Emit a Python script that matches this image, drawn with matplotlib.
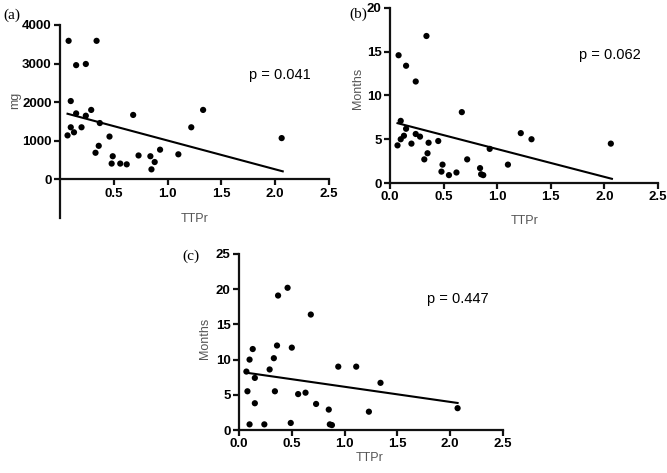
import matplotlib
matplotlib.use("Agg")
import matplotlib.pyplot as plt
import numpy as np

plt.rcParams["font.family"] = ["Liberation Sans", "DejaVu Sans"]

# ---------------------------------------------------------------------------
# Data
# ---------------------------------------------------------------------------

ttpr_a = [0.08, 0.34, 0.15, 0.24, 0.10, 0.29, 0.15, 0.24, 0.37, 0.68,
          0.10, 0.20, 0.13, 0.07, 0.46, 0.36, 0.33, 0.49, 0.73, 0.48,
          0.56, 0.62, 0.84, 0.88, 0.85, 0.93, 1.10, 1.22, 1.33, 2.06]
dose_mg = [3590, 3590, 2960, 2990, 2030, 1800, 1710, 1650, 1460, 1670,
           1350, 1350, 1220, 1140, 1110, 870, 690, 600, 620, 410,
           410, 390, 600, 450, 260, 770, 650, 1350, 1800, 1070]

ttpr_b = [0.08, 0.34, 0.15, 0.24, 0.10, 0.67, 0.15, 0.07, 0.10, 0.13,
          0.24, 0.28, 0.20, 0.36, 0.45, 0.35, 0.32, 0.72, 0.49, 0.48,
          0.55, 0.62, 0.84, 0.85, 0.87, 0.93, 1.10, 1.22, 1.32, 2.06]
months_b = [14.6, 16.8, 13.4, 11.6, 7.1, 8.1, 6.2, 4.3, 5.0, 5.4,
            5.6, 5.3, 4.5, 4.6, 4.8, 3.4, 2.7, 2.7, 2.1, 1.3,
            0.9, 1.2, 1.7, 1.0, 0.9, 3.9, 2.1, 5.7, 5.0, 4.5]

ttpr_c = [0.46, 0.37, 0.68, 0.36, 0.50, 0.13, 0.10, 0.33, 0.07, 0.29,
          0.15, 0.94, 1.11, 1.34, 0.08, 0.34, 0.56, 0.63, 0.15, 0.73,
          0.85, 1.23, 0.10, 0.24, 0.49, 0.86, 0.88, 2.07]
months_c = [20.2, 19.1, 16.4, 12.0, 11.7, 11.5, 10.0, 10.2, 8.3, 8.6,
            7.4, 9.0, 9.0, 6.7, 5.5, 5.5, 5.1, 5.3, 3.8, 3.7,
            2.9, 2.6, 0.8, 0.8, 1.0, 0.8, 0.7, 3.1]

# regression line x range and fitted intercept / slope
fit_x = [0.07, 2.07]
fit_a = (1753, -746)
fit_b = (7.06, -3.18)
fit_c = (8.29, -2.15)

p_values = ["p = 0.041", "p = 0.062", "p = 0.447"]
panel_tags = ["(a)", "(b)", "(c)"]

W, H = 667, 473
AXIS_GREY = "#555555"


def _axes(fig, x0, x1, ytop, ybot):
    return fig.add_axes([x0 / W, (H - ybot) / H, (x1 - x0) / W, (ybot - ytop) / H])


def _style(ax, xticks, yticks):
    for s in ("top", "right"):
        ax.spines[s].set_visible(False)
    for s in ("left", "bottom"):
        ax.spines[s].set_linewidth(1.6)
        ax.spines[s].set_color("#111111")
    ax.tick_params(direction="out", length=4, width=1.6, color="#111111", pad=2)
    ax.set_xticks(xticks)
    ax.set_yticks(yticks)
    ax.set_xticklabels([f"{v:.1f}" for v in xticks], fontweight="bold", fontsize=9.5)
    ax.set_yticklabels([f"{v:g}" for v in yticks], fontweight="bold", fontsize=9.5)


def _panel(ax, x, y, fit, ptxt, ptxt_xy):
    ax.scatter(x, y, s=20, c="black", edgecolors="none", zorder=3)
    xs = np.array(fit_x)
    ax.plot(xs, fit[0] + fit[1] * xs, color="black", linewidth=1.5)
    ax.text(ptxt_xy[0], ptxt_xy[1], ptxt, fontsize=10.5, va="center", ha="left")


fig = plt.figure(figsize=(W / 100, H / 100), dpi=100)

# Panel (a)
ax_a = _axes(fig, 60, 329, 25, 218)
_panel(ax_a, ttpr_a, dose_mg, fit_a, p_values[0], (1.76, 2700))
ax_a.set_xlim(0, 2.5)
ax_a.set_ylim(-1000, 4000)
ax_a.spines["bottom"].set_position(("data", 0))
_style(ax_a, [0.5, 1.0, 1.5, 2.0, 2.5], [0, 1000, 2000, 3000, 4000])
fig.text(15 / W, 1 - 100 / H, "mg", rotation=90, ha="center", va="center",
         fontsize=9, color=AXIS_GREY)
fig.text(195 / W, 1 - 219 / H, "TTPr", ha="center", va="center",
         fontsize=9, color=AXIS_GREY)

# Panel (b)
ax_b = _axes(fig, 390, 658, 8, 183)
_panel(ax_b, ttpr_b, months_b, fit_b, p_values[1], (1.76, 14.6))
ax_b.set_xlim(0, 2.5)
ax_b.set_ylim(0, 20)
_style(ax_b, [0.0, 0.5, 1.0, 1.5, 2.0, 2.5], [0, 5, 10, 15, 20])
fig.text(358 / W, 1 - 88 / H, "Months", rotation=90, ha="center", va="center",
         fontsize=9, color=AXIS_GREY)
fig.text(525 / W, 1 - 221 / H, "TTPr", ha="center", va="center",
         fontsize=9, color=AXIS_GREY)

# Panel (c)
ax_c = _axes(fig, 239, 503, 254, 430)
_panel(ax_c, ttpr_c, months_c, fit_c, p_values[2], (1.78, 18.6))
ax_c.set_xlim(0, 2.5)
ax_c.set_ylim(0, 25)
_style(ax_c, [0.0, 0.5, 1.0, 1.5, 2.0, 2.5], [0, 5, 10, 15, 20, 25])
fig.text(205 / W, 1 - 338 / H, "Months", rotation=90, ha="center", va="center",
         fontsize=9, color=AXIS_GREY)
fig.text(370 / W, 1 - 458 / H, "TTPr", ha="center", va="center",
         fontsize=9, color=AXIS_GREY)

# Panel tags
for tag, (px, py) in zip(panel_tags, [(12, 15), (358, 14), (191, 256)]):
    fig.text(px / W, 1 - py / H, tag, ha="center", va="center", fontsize=11,
             family=["Liberation Serif", "DejaVu Serif"])

fig.savefig("out.png", dpi=100)
